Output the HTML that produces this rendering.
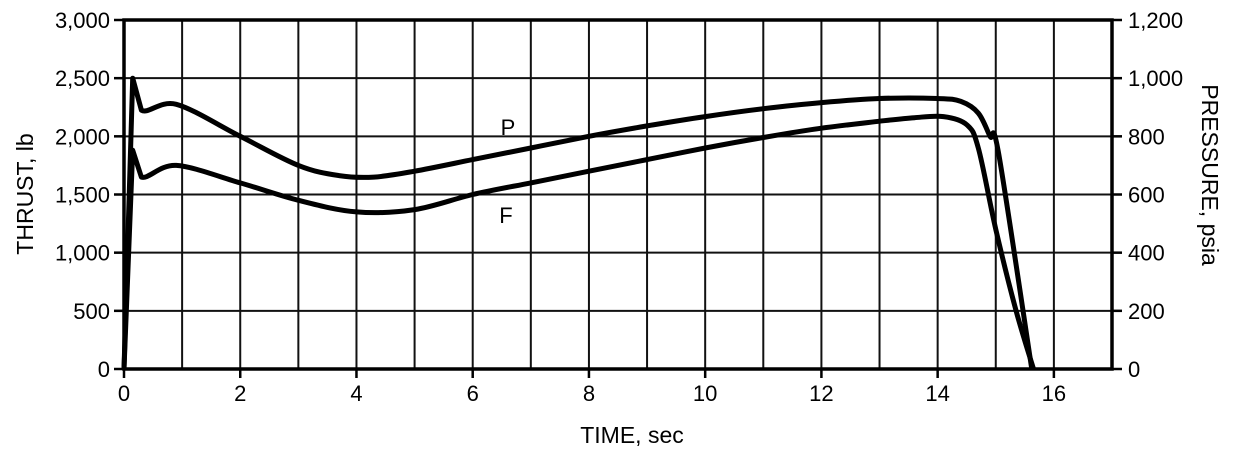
<!DOCTYPE html>
<html><head><meta charset="utf-8"><style>
body{margin:0;background:#fff;}
svg{display:block;font-family:"Liberation Sans",Arial,sans-serif;}
</style></head><body>
<svg width="1243" height="455" viewBox="0 0 1243 455">
<g id="grid"></g>
<g id="axes"></g>
<g id="series"></g>
<text x="508" y="135" font-size="22" text-anchor="middle">P</text>
<text x="506" y="223" font-size="22" text-anchor="middle">F</text>
<text x="632" y="443" font-size="23" text-anchor="middle">TIME, sec</text>
<text transform="translate(33,194) rotate(-90)" font-size="23" text-anchor="middle">THRUST, lb</text>
<text transform="translate(1202,175) rotate(90)" font-size="23" text-anchor="middle">PRESSURE, psia</text>
</svg>
<script>
const xTicks=[0,2,4,6,8,10,12,14,16];
const yTicksLeft=[0,500,1000,1500,2000,2500,3000];
const yLabelsLeft=["0","500","1,000","1,500","2,000","2,500","3,000"];
const yTicksRight=[0,200,400,600,800,1000,1200];
const yLabelsRight=["0","200","400","600","800","1,000","1,200"];
const pTime=[0,0.15,0.3,0.9,2,3,3.7,4.3,5,6,7,8,9,10,11,12,13,14,14.4,14.7,14.9,15.05,15.62];
const pPsia=[0,1000,890,910,800,700,665,660,680,720,760,800,836,868,895,916,930,930,920,880,800,740,0];
const fTime=[0,0.15,0.3,0.9,2,3,4,5,6,7,8,9,10,11,12,13,13.6,14.1,14.5,14.7,15,15.35,15.65];
const fLb=[0,1880,1650,1750,1600,1450,1350,1370,1500,1600,1700,1800,1900,1990,2070,2130,2160,2170,2100,1900,1200,500,0];
const NS="http://www.w3.org/2000/svg";
const X0=124,X1=1112,Y0=369,Y1=20;
const xs=t=>X0+t*(X1-X0)/17;
const yl=v=>Y0-v*(Y0-Y1)/3000;
const yp=p=>yl(p*2.5);
function mk(tag,attrs,parent){const e=document.createElementNS(NS,tag);for(const k in attrs)e.setAttribute(k,attrs[k]);parent.appendChild(e);return e;}
const grid=document.getElementById('grid'),axes=document.getElementById('axes'),series=document.getElementById('series');
for(let t=1;t<17;t++){const l=mk('line',{x1:xs(t),x2:xs(t),y1:Y1,y2:Y0,stroke:'#111','stroke-width':2},grid);

}
for(let v=500;v<3000;v+=500){const l=mk('line',{x1:X0,x2:X1,y1:yl(v),y2:yl(v),stroke:'#111','stroke-width':2},grid);

}
const fr=mk('rect',{x:X0,y:Y1,width:X1-X0,height:Y0-Y1,fill:'none',stroke:'#000','stroke-width':3.5},axes);


xTicks.forEach(t=>{mk('line',{x1:xs(t),x2:xs(t),y1:Y0,y2:Y0+9,stroke:'#000','stroke-width':2.5},axes);
const tx=mk('text',{x:xs(t),y:Y0+32,'font-size':22,'text-anchor':'middle'},axes);tx.textContent=t;

});
yTicksLeft.forEach((v,i)=>{mk('line',{x1:X0-10,x2:X0,y1:yl(v),y2:yl(v),stroke:'#000','stroke-width':2.5},axes);
const tx=mk('text',{x:X0-14,y:yl(v)+8,'font-size':22,'text-anchor':'end'},axes);tx.textContent=yLabelsLeft[i];

});
yTicksRight.forEach((v,i)=>{mk('line',{x1:X1,x2:X1+10,y1:yp(v),y2:yp(v),stroke:'#000','stroke-width':2.5},axes);
const tx=mk('text',{x:X1+16,y:yp(v)+8,'font-size':22,'text-anchor':'start'},axes);tx.textContent=yLabelsRight[i];

});
function path(ts,vs,fy){
  const P=ts.map((t,i)=>[xs(t),fy(vs[i])]);
  let d='M'+P[0][0].toFixed(1)+','+P[0][1].toFixed(1)+' L'+P[1][0].toFixed(1)+','+P[1][1].toFixed(1)+' L'+P[2][0].toFixed(1)+','+P[2][1].toFixed(1);
  for(let i=2;i<P.length-1;i++){
    const p0=P[i-1],p1=P[i],p2=P[i+1],p3=P[Math.min(i+2,P.length-1)];
    const c1=[p1[0]+(p2[0]-p0[0])/6,p1[1]+(p2[1]-p0[1])/6];
    const c2=[p2[0]-(p3[0]-p1[0])/6,p2[1]-(p3[1]-p1[1])/6];
    d+=' C'+c1.map(v=>v.toFixed(1)).join(',')+' '+c2.map(v=>v.toFixed(1)).join(',')+' '+p2.map(v=>v.toFixed(1)).join(',');
  }
  return d;}
const p=mk('path',{d:path(pTime,pPsia,yp),fill:'none',stroke:'#000','stroke-width':5,'stroke-linejoin':'round'},series);


const f=mk('path',{d:path(fTime,fLb,yl),fill:'none',stroke:'#000','stroke-width':5,'stroke-linejoin':'round'},series);


</script>
</body></html>
